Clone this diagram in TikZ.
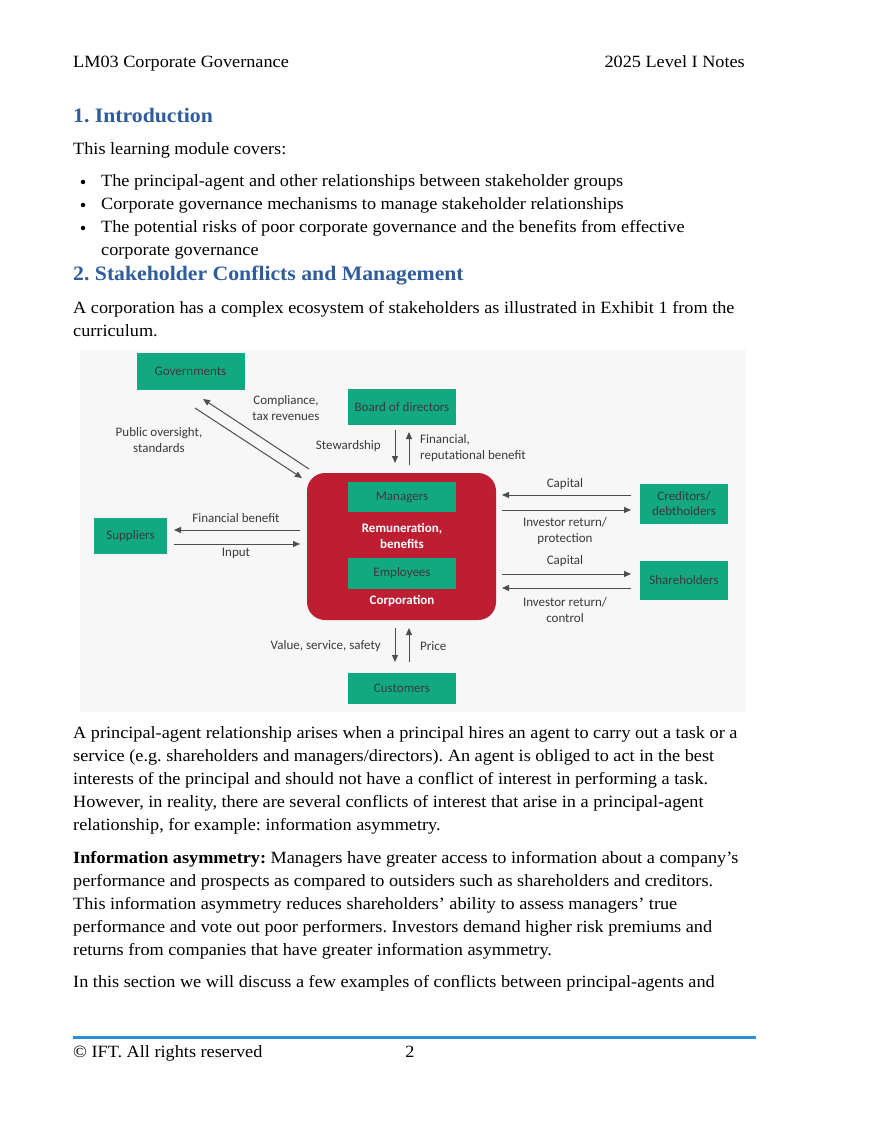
\documentclass[tikz,border=0pt]{standalone}
\usepackage{fontspec}
\setmainfont{Liberation Serif}[FakeStretch=1.06]
\newfontfamily\dfont{Carlito}
\usetikzlibrary{arrows.meta}
\definecolor{hblue}{HTML}{2F5D9C}
\definecolor{gbox}{HTML}{12A882}
\definecolor{cred}{HTML}{BE1E32}
\definecolor{dtxt}{HTML}{3A3A3A}
\definecolor{bg}{HTML}{F7F7F7}
\definecolor{fblue}{HTML}{2E8FD8}
\frenchspacing
\tikzset{
 body/.style={anchor=base west,inner sep=0,font=\fontsize{17.2}{18}\selectfont},
 hd/.style={anchor=base west,inner sep=0,font=\fontsize{20.5}{22}\selectfont\bfseries,text=hblue},
 gb/.style={fill=gbox,draw=none,text=dtxt,font=\dfont\fontsize{13}{15}\selectfont,align=center,inner sep=0},
 lb/.style={text=dtxt,font=\dfont\fontsize{13}{16}\selectfont,align=center,inner sep=0},
 ar/.style={draw=dtxt!90,line width=1pt,-{Triangle[length=7pt,width=6pt]}},
 bul/.style={fill,circle,inner sep=0,minimum size=4.5pt}
}
\begin{document}
\begin{tikzpicture}[x=1pt,y=-1pt]
\useasboundingbox (0,0) rectangle (880,1139);
\fill[white] (0,0) rectangle (880,1139);
\node[body] (h1) at (73,68) {LM03 Corporate Governance};
\node[body,anchor=base east] (h2) at (745,68) {2025 Level I Notes};
\node[hd] (t1) at (73,123) {1. Introduction};
\node[body] (p1) at (73,155) {This learning module covers:};
\foreach \y/\t [count=\i] in {187/{The principal-agent and other relationships between stakeholder groups},210/{Corporate governance mechanisms to manage stakeholder relationships},233/{The potential risks of poor corporate governance and the benefits from effective}}{
 \node[bul] (b\i) at (83,\y-5) {};
 \node[body] (bt\i) at (101,\y) {\t};
}
\node[body] (bt4) at (101,256) {corporate governance};
\node[hd] (t2) at (73,280) {2. Stakeholder Conflicts and Management};
\node[body] (q1) at (73,313) {A corporation has a complex ecosystem of stakeholders as illustrated in Exhibit 1 from the};
\node[body] (q2) at (73,336) {curriculum.};
% diagram
\fill[bg] (80,350) rectangle (746,712);
\fill[cred,rounded corners=18pt] (307,473) rectangle (496,620);
\node[gb,minimum width=108pt,minimum height=37pt] (gov) at (190.5,371.5) {Governments};
\node[gb,minimum width=108pt,minimum height=36pt] (bod) at (402,407) {Board of directors};
\node[gb,minimum width=108pt,minimum height=30pt] (man) at (402,497) {Managers};
\node[gb,minimum width=108pt,minimum height=31pt] (emp) at (402,573.5) {Employees};
\node[gb,minimum width=73pt,minimum height=36pt] (sup) at (130.5,536) {Suppliers};
\node[gb,minimum width=88pt,minimum height=40pt] (cre) at (684,504) {Creditors/\\debtholders};
\node[gb,minimum width=88pt,minimum height=39pt] (sha) at (684,580.5) {Shareholders};
\node[gb,minimum width=108pt,minimum height=31pt] (cus) at (402,688.5) {Customers};
\node[lb,text=white,font=\dfont\fontsize{13}{16}\selectfont\bfseries] (rem) at (402,536) {Remuneration,\\benefits};
\node[lb,text=white,font=\dfont\fontsize{13}{14}\selectfont\bfseries] (corp) at (402,601) {Corporation};
\coordinate (g1s) at (309,469); \coordinate (g1e) at (203,399);
\coordinate (g2s) at (195,408); \coordinate (g2e) at (302,478);
\draw[ar] (g1s) -- (g1e);
\draw[ar] (g2s) -- (g2e);
\draw[ar] (395,430) -- (395,463);
\draw[ar] (409,465) -- (409,432);
\draw[ar] (631,495) -- (502,495);
\draw[ar] (502,510) -- (631,510);
\draw[ar] (502,574) -- (631,574);
\draw[ar] (631,588) -- (502,588);
\draw[ar] (300,530) -- (174,530);
\draw[ar] (174,544) -- (300,544);
\draw[ar] (395,628) -- (395,662);
\draw[ar] (409,662) -- (409,628);
\node[lb] (l1) at (286,408) {Compliance,\\tax revenues};
\node[lb] (l2) at (159,440) {Public oversight,\\standards};
\node[lb,anchor=east] (l3) at (381,446) {Stewardship};
\node[lb,anchor=west,align=left] (l4) at (420,448) {Financial,\\reputational benefit};
\node[lb] (l5) at (565,484) {Capital};
\node[lb] (l6) at (565,531) {Investor return/\\protection};
\node[lb] (l7) at (565,561) {Capital};
\node[lb] (l8) at (565,610) {Investor return/\\control};
\node[lb] (l9) at (236,518) {Financial benefit};
\node[lb] (l10) at (236,553) {Input};
\node[lb,anchor=east] (l11) at (381,646) {Value, service, safety};
\node[lb,anchor=west] (l12) at (420,646) {Price};
% after
\foreach \y/\t [count=\i] in {738/{A principal-agent relationship arises when a principal hires an agent to carry out a task or a},761/{service (e.g. shareholders and managers/directors). An agent is obliged to act in the best},784/{interests of the principal and should not have a conflict of interest in performing a task.},807/{However, in reality, there are several conflicts of interest that arise in a principal-agent},830/{relationship, for example: information asymmetry.},886/{performance and prospects as compared to outsiders such as shareholders and creditors.},909/{This information asymmetry reduces shareholders' ability to assess managers' true},932/{performance and vote out poor performers. Investors demand higher risk premiums and},955/{returns from companies that have greater information asymmetry.},987/{In this section we will discuss a few examples of conflicts between principal-agents and}}{
 \node[body] (r\i) at (73,\y) {\t};
}
\node[body] (ia) at (73,863) {\textbf{Information asymmetry:} Managers have greater access to information about a company’s};
\draw[fblue,line width=3pt] (73,1037) -- (756,1037);
\node[body] (f1) at (73,1057) {© IFT. All rights reserved};
\node[body,anchor=base] (f2) at (410,1057) {2};
\end{tikzpicture}
\end{document}
